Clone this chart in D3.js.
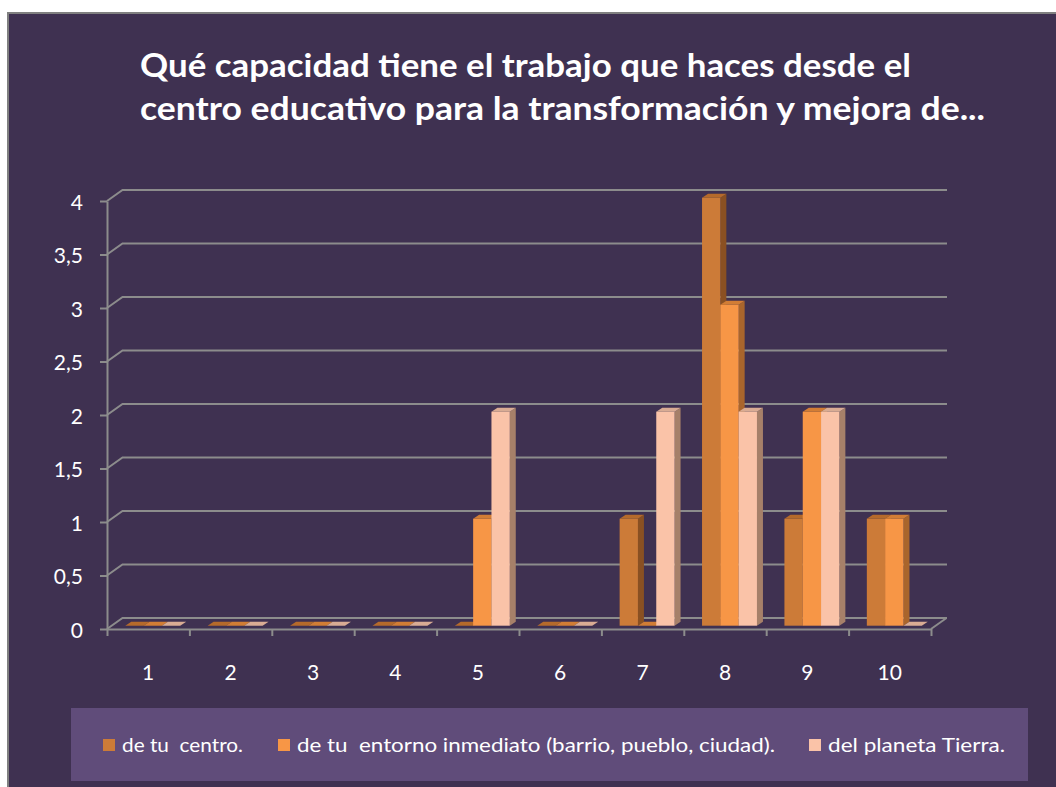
<!DOCTYPE html>
<html>
<head>
<meta charset="utf-8">
<script src="https://cdn.jsdelivr.net/npm/d3@7"></script>
<style>
  body { margin: 0; background: #fff; }
  text { font-family: Lato, "Open Sans", sans-serif; }
</style>
</head>
<body>
<div id="main"></div>
<script>
const ctx = { w: 1056, h: 787 };

// data
const categories = ["1", "2", "3", "4", "5", "6", "7", "8", "9", "10"];
const seriesNames = [
  "de tu  centro.",
  "de tu  entorno inmediato (barrio, pueblo, ciudad).",
  "del planeta Tierra."
];
const centro  = [0, 0, 0, 0, 0, 0, 1, 4, 1, 1];
const entorno = [0, 0, 0, 0, 1, 0, 0, 3, 2, 1];
const planeta = [0, 0, 0, 0, 2, 0, 2, 2, 2, 0];
const yTicks = [0, 0.5, 1, 1.5, 2, 2.5, 3, 3.5, 4];
const titleLines = [
  "Qué capacidad tiene el trabajo que haces desde el",
  "centro educativo para la transformación y mejora de..."
];

const seriesValues = [centro, entorno, planeta];
const colors = [
  { front: "#CC7B38", top: "#B56A2B", side: "#8A5022" },
  { front: "#F79646", top: "#D27D35", side: "#A9652C" },
  { front: "#FAC3A8", top: "#D9AC94", side: "#A68069" }
];

// 3d look
const DX = 15.5, DY = -11;      // depth of the plot box
const BOX = 4.5, BOY = -3.3;    // bar plane offset
const BDX = 6, BDY = -4;        // bar depth
const gridColor = "#8C8C8C";

const svg = d3.select("#main").append("svg")
  .attr("width", ctx.w).attr("height", ctx.h);

svg.append("rect")
  .attr("x", 8).attr("y", 13)
  .attr("width", ctx.w).attr("height", ctx.h)
  .attr("fill", "#3F3151")
  .attr("stroke", "#808080").attr("stroke-width", 2);

// title
svg.append("g").selectAll("text")
  .data(titleLines)
  .join("text")
  .attr("x", 140)
  .attr("y", (d, i) => 77 + i * 43)
  .attr("textLength", (d, i) => i == 0 ? 771 : 845)
  .attr("lengthAdjust", "spacingAndGlyphs")
  .attr("fill", "#fff")
  .style("font-weight", "bold")
  .style("font-size", "33px")
  .text(d => d);

const x = d3.scaleBand().domain(categories).range([107, 931]);
const bw = x.bandwidth();
const x1 = d3.scaleBand().domain(d3.range(3)).range([bw / 6, bw - bw / 6]);
const y = d3.scaleLinear().domain([0, 4]).range([629, 201]);
const xb = d3.scaleLinear().domain([0, 10]).range([107, 931]);

// gridlines with the little wall diagonals
svg.append("g").selectAll("polyline")
  .data(yTicks)
  .join("polyline")
  .attr("points", d => [[107, y(d)], [107 + DX, y(d) + DY], [947, y(d) + DY]].join(" "))
  .attr("fill", "none")
  .attr("stroke", gridColor).attr("stroke-width", 2);

// floor right edge
svg.append("line")
  .attr("x1", 931).attr("y1", y(0))
  .attr("x2", 931 + DX).attr("y2", y(0) + DY)
  .attr("stroke", gridColor).attr("stroke-width", 2);

// bars
const bars = [];
categories.forEach((c, ci) => {
  seriesValues.forEach((vals, si) => {
    bars.push({ cat: c, s: si, v: vals[ci] });
  });
});

const barG = svg.append("g");
bars.forEach(b => {
  const x0 = x(b.cat) + x1(b.s) + BOX;
  const xr = x0 + x1.bandwidth();
  const yt = y(b.v) + BOY;
  const yb = y(0) + BOY;
  const col = colors[b.s];
  const g = barG.append("g");
  if (b.v > 0) {
    g.append("polygon")
      .attr("points", [[xr, yt], [xr + BDX, yt + BDY], [xr + BDX, yb + BDY], [xr, yb]].join(" "))
      .attr("fill", col.side);
    g.append("rect")
      .attr("x", x0).attr("y", yt)
      .attr("width", xr - x0).attr("height", yb - yt)
      .attr("fill", col.front);
  }
  g.append("polygon")
    .attr("points", [[x0, yt], [xr, yt], [xr + BDX, yt + BDY], [x0 + BDX, yt + BDY]].join(" "))
    .attr("fill", col.top);
});

// y axis
const fmt = d => String(d).replace(".", ",");
const yAxis = svg.append("g")
  .attr("transform", "translate(107,0)")
  .call(d3.axisLeft(y).tickValues(yTicks).tickFormat(fmt)
        .tickSize(7).tickSizeOuter(0).tickPadding(17));
yAxis.selectAll("path, line").attr("stroke", gridColor).attr("stroke-width", 2);
yAxis.selectAll("text")
  .attr("fill", "#fff")
  .attr("dy", "0.4em")
  .style("font-size", "21px");

// x axis: boundary ticks and category labels
const xTickAxis = svg.append("g")
  .attr("transform", `translate(0,${y(0)})`)
  .call(d3.axisBottom(xb).ticks(10).tickFormat("").tickSize(7).tickSizeOuter(0));
xTickAxis.selectAll("path, line").attr("stroke", gridColor).attr("stroke-width", 2);

const xAxis = svg.append("g")
  .attr("transform", `translate(0,${y(0)})`)
  .call(d3.axisBottom(x).tickSize(0).tickPadding(36));
xAxis.select(".domain").remove();
xAxis.selectAll("text")
  .attr("fill", "#fff")
  .style("font-size", "21px");

// legend
svg.append("rect")
  .attr("x", 71).attr("y", 708)
  .attr("width", 957).attr("height", 73)
  .attr("fill", "#604C7A");

const legendX = [103, 278, 809];
const legendLen = [121, 478, 177];
const legend = svg.append("g").selectAll("g")
  .data(seriesNames)
  .join("g")
  .attr("transform", (d, i) => `translate(${legendX[i]},0)`);
legend.append("rect")
  .attr("x", 0).attr("y", 739)
  .attr("width", 12).attr("height", 12)
  .attr("fill", (d, i) => colors[i].front);
legend.append("text")
  .attr("x", 19).attr("y", 752)
  .attr("fill", "#fff")
  .attr("textLength", (d, i) => legendLen[i])
  .attr("lengthAdjust", "spacingAndGlyphs")
  .style("font-size", "19px")
  .style("white-space", "pre")
  .text(d => d);
</script>
</body>
</html>
